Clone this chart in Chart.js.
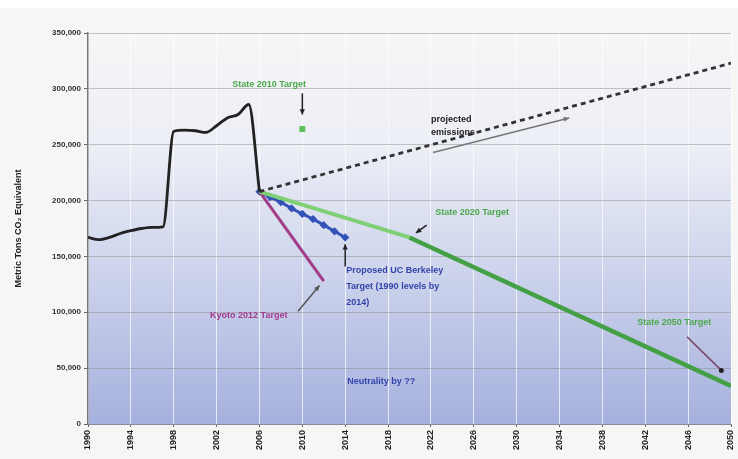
<!DOCTYPE html>
<html>
<head>
<meta charset="utf-8">
<script src="https://cdn.jsdelivr.net/npm/chart.js"></script>
<style>
  html, body { margin: 0; padding: 0; background: #ffffff; }
  #wrap { width: 738px; height: 459px; }
</style>
</head>
<body>
<div id="wrap"><canvas id="emissionsChart" width="738" height="459"></canvas></div>
<script>
// Données (tonnes métriques CO2 équivalent)
const historicYears = [1990, 1991, 1992, 1993, 1994, 1995, 1996, 1997, 1998, 1999, 2000, 2001, 2002, 2003, 2004, 2005, 2006];
const historicValues = [167000, 165000, 167000, 170500, 173000, 175000, 176000, 176500, 262000, 263000, 262500, 261000, 267000, 274000, 277000, 286000, 208000];

const projectedYears = [2006, 2050];
const projectedValues = [208000, 323000];

const berkeleyYears = [2006, 2007, 2008, 2009, 2010, 2011, 2012, 2013, 2014];
const berkeleyValues = [208000, 203000, 198500, 193000, 188000, 183500, 178000, 172500, 167000];

const kyotoYears = [2006, 2012];
const kyotoValues = [208000, 128000];

const state2020Years = [2006, 2020];
const state2020Values = [208000, 167000];

const state2050Years = [2020, 2050];
const state2050Values = [167000, 34000];

const state2010Year = 2010;
const state2010Value = 264000;

const yTicks = [0, 50000, 100000, 150000, 200000, 250000, 300000, 350000];

function toPoints(xs, ys) {
    return xs.map((x, i) => ({ x: x, y: ys[i] }));
}

// Fond dégradé de la zone de tracé
const plotBackground = {
    id: 'plotBackground',
    beforeDraw(chart) {
        const { ctx, chartArea } = chart;
        ctx.save();
        ctx.fillStyle = '#f6f7f5';
        ctx.fillRect(0, 8, chart.width, chart.height - 8);
        const grad = ctx.createLinearGradient(0, chartArea.top, 0, chartArea.bottom);
        grad.addColorStop(0, '#f5f6f6');
        grad.addColorStop(0.3, '#eceef6');
        grad.addColorStop(0.55, '#d3d9ee');
        grad.addColorStop(1, '#a6b0dd');
        ctx.fillStyle = grad;
        ctx.fillRect(chartArea.left, chartArea.top, chartArea.right - chartArea.left, chartArea.bottom - chartArea.top);
        ctx.restore();
    }
};

// Annotations textuelles et flèches
const annotations = {
    id: 'annotations',
    afterDatasetsDraw(chart) {
        const { ctx } = chart;
        const xs = chart.scales.x;
        const ys = chart.scales.y;
        const px = v => xs.getPixelForValue(v);
        const py = v => ys.getPixelForValue(v);

        function text(str, x, y, color, align) {
            ctx.fillStyle = color;
            ctx.textAlign = align || 'left';
            ctx.textBaseline = 'middle';
            ctx.fillText(str, px(x), py(y));
        }
        function arrow(x1, y1, x2, y2, color, head) {
            const ax = px(x1), ay = py(y1), bx = px(x2), by = py(y2);
            ctx.strokeStyle = color;
            ctx.lineWidth = 1.5;
            ctx.beginPath();
            ctx.moveTo(ax, ay);
            ctx.lineTo(bx, by);
            ctx.stroke();
            if (head) {
                const ang = Math.atan2(by - ay, bx - ax);
                ctx.fillStyle = color;
                ctx.beginPath();
                ctx.moveTo(bx, by);
                ctx.lineTo(bx - 6 * Math.cos(ang - 0.45), by - 6 * Math.sin(ang - 0.45));
                ctx.lineTo(bx - 6 * Math.cos(ang + 0.45), by - 6 * Math.sin(ang + 0.45));
                ctx.closePath();
                ctx.fill();
            }
        }

        ctx.save();
        ctx.font = 'bold 9px "Liberation Sans", Arial, sans-serif';

        text('State 2010 Target', 2006.9, 304000, '#4aa84a', 'center');
        arrow(2010, 296000, 2010, 277000, '#222222', true);

        text('projected', 2022, 273000, '#222222');
        text('emissions', 2022, 261000, '#222222');
        arrow(2022.2, 243000, 2034.9, 274000, '#777777', true);

        text('State 2020 Target', 2022.4, 189000, '#4aa84a');
        arrow(2021.6, 178000, 2020.6, 171000, '#222222', true);

        text('Proposed UC Berkeley', 2014.1, 137000, '#3344aa');
        text('Target (1990 levels by', 2014.1, 123000, '#3344aa');
        text('2014)', 2014.1, 109000, '#3344aa');
        arrow(2014, 141000, 2014, 161000, '#222222', true);

        text('Kyoto 2012 Target', 2005, 97000, '#a23a8c', 'center');
        arrow(2009.6, 101000, 2011.6, 124000, '#555555', true);

        text('State 2050 Target', 2044.7, 91000, '#4aa84a', 'center');
        arrow(2045.9, 78000, 2049.1, 48000, '#7a4a6a', false);
        ctx.fillStyle = '#222222';
        ctx.beginPath();
        ctx.arc(px(2049.1), py(48000), 2.5, 0, Math.PI * 2);
        ctx.fill();

        text('Neutrality by ??', 2014.2, 38000, '#3344aa');
        ctx.restore();
    }
};

document.addEventListener('DOMContentLoaded', function() {
    const ctx = document.getElementById('emissionsChart').getContext('2d');

    new Chart(ctx, {
        type: 'line',
        data: {
            datasets: [
                {
                    label: 'Historique',
                    data: toPoints(historicYears, historicValues),
                    borderColor: '#222222',
                    borderWidth: 2.8,
                    pointRadius: 0,
                    cubicInterpolationMode: 'monotone'
                },
                {
                    label: 'Projected emissions',
                    data: toPoints(projectedYears, projectedValues),
                    borderColor: '#333333',
                    borderWidth: 2.8,
                    borderDash: [5, 4],
                    pointRadius: 0
                },
                {
                    label: 'State 2020 Target',
                    data: toPoints(state2020Years, state2020Values),
                    borderColor: '#7fd074',
                    borderWidth: 4,
                    pointRadius: 0
                },
                {
                    label: 'State 2050 Target',
                    data: toPoints(state2050Years, state2050Values),
                    borderColor: '#44a044',
                    borderWidth: 4.5,
                    pointRadius: 0
                },
                {
                    label: 'Kyoto 2012 Target',
                    data: toPoints(kyotoYears, kyotoValues),
                    borderColor: '#a03c88',
                    borderWidth: 3,
                    pointRadius: 0
                },
                {
                    label: 'UC Berkeley',
                    data: toPoints(berkeleyYears, berkeleyValues),
                    borderColor: '#3352b8',
                    backgroundColor: '#3352b8',
                    borderWidth: 3,
                    pointRadius: 2,
                    pointStyle: 'rectRot'
                },
                {
                    label: 'State 2010 Target',
                    data: [{ x: state2010Year, y: state2010Value }],
                    borderColor: '#5cbf5c',
                    backgroundColor: '#5cbf5c',
                    showLine: false,
                    pointRadius: 3.5,
                    pointStyle: 'rect'
                }
            ]
        },
        options: {
            responsive: false,
            animation: false,
            layout: { padding: { left: 9, right: 3, top: 33, bottom: 2 } },
            plugins: {
                legend: { display: false },
                tooltip: { enabled: false }
            },
            scales: {
                x: {
                    type: 'linear',
                    min: 1990,
                    max: 2050,
                    afterBuildTicks(axis) {
                        axis.ticks = [];
                        for (let yr = 1990; yr <= 2050; yr += 4) axis.ticks.push({ value: yr });
                    },
                    afterFit(axis) {
                        axis.height = 33;
                        axis.paddingRight = 0;
                        axis.paddingLeft = 0;
                    },
                    ticks: {
                        minRotation: 90,
                        maxRotation: 90,
                        color: '#222222',
                        font: { size: 9, weight: 'bold', family: '"Liberation Sans", Arial' },
                        callback: v => String(v)
                    },
                    grid: {
                        color: 'rgba(255,255,255,0.7)',
                        tickColor: '#666666',
                        tickLength: 3
                    },
                    border: { color: '#8a8a9a' }
                },
                y: {
                    min: 0,
                    max: 350000,
                    afterBuildTicks(axis) {
                        axis.ticks = yTicks.map(v => ({ value: v }));
                    },
                    afterFit(axis) { axis.width = 79; },
                    ticks: {
                        color: '#333333',
                        font: { size: 8, weight: 'bold', family: '"Liberation Sans", Arial' },
                        callback: v => v.toLocaleString('en-US')
                    },
                    grid: {
                        color: 'rgba(140,130,130,0.45)',
                        tickColor: '#666666',
                        tickLength: 4
                    },
                    border: { color: '#777777', width: 1.5 },
                    title: {
                        display: true,
                        text: 'Metric Tons CO\u2082 Equivalent',
                        color: '#222222',
                        font: { size: 9, weight: 'bold', family: '"Liberation Sans", Arial' }
                    }
                }
            }
        },
        plugins: [plotBackground, annotations]
    });
});
</script>
</body>
</html>
